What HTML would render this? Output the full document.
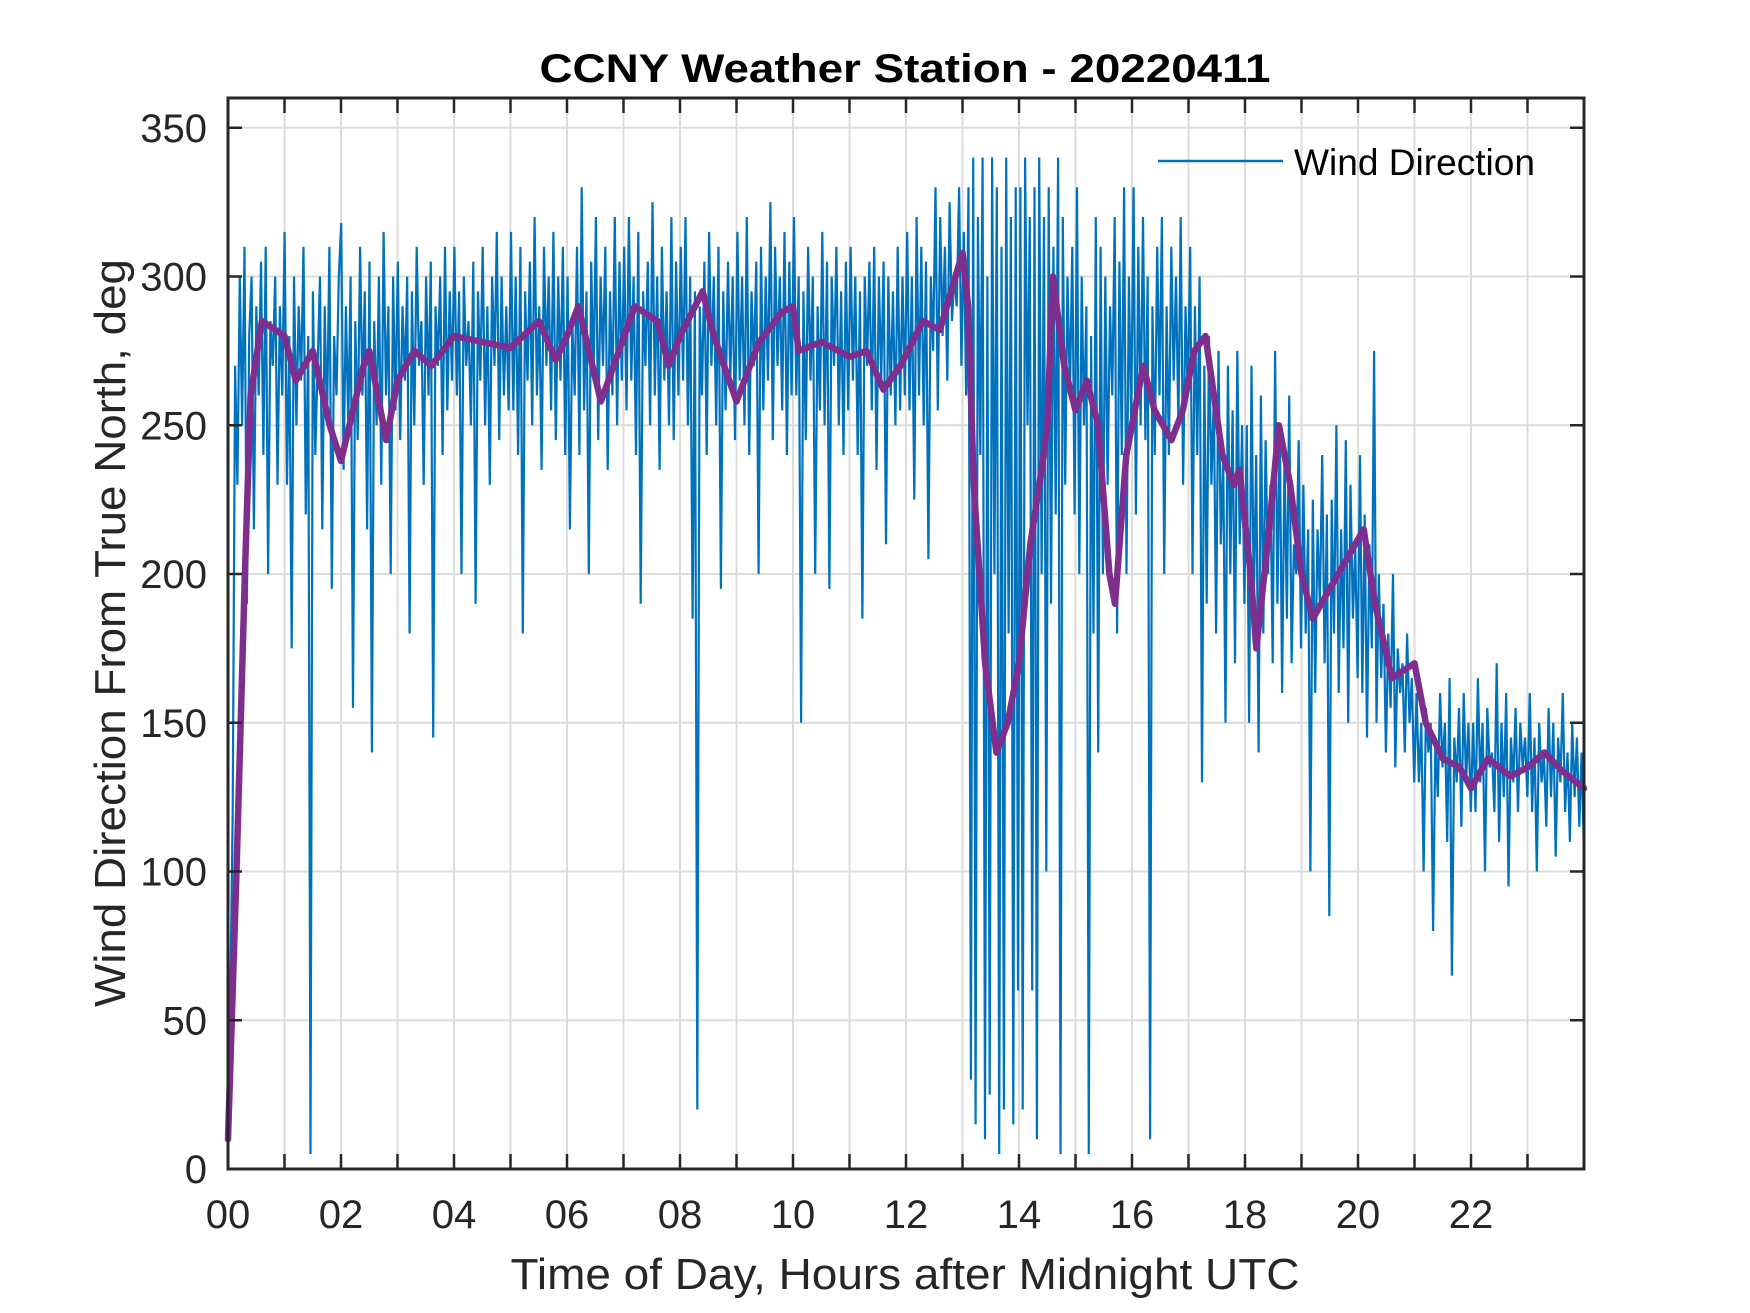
<!DOCTYPE html>
<html><head><meta charset="utf-8"><style>
html,body{margin:0;padding:0;background:#fff;}
svg{display:block;font-family:"Liberation Sans",sans-serif;}
</style></head><body>
<svg id="chart" width="1750" height="1313" viewBox="0 0 1750 1313" xmlns="http://www.w3.org/2000/svg">
<rect x="0" y="0" width="1750" height="1313" fill="#fff"/>
<g id="grid"></g>
<g id="series"></g>
<g id="axes"></g>
<text x="905" y="82" text-anchor="middle" font-size="40" font-weight="bold" textLength="731" lengthAdjust="spacingAndGlyphs">CCNY Weather Station - 20220411</text>
<text x="905" y="1289" text-anchor="middle" font-size="44" fill="#262626" textLength="789" lengthAdjust="spacingAndGlyphs">Time of Day, Hours after Midnight UTC</text>
<text transform="translate(125,633) rotate(-90)" text-anchor="middle" font-size="44" fill="#262626" textLength="748" lengthAdjust="spacingAndGlyphs">Wind Direction From True North, deg</text>
<g>
<line x1="1158" y1="161" x2="1283" y2="161" stroke="#0072BD" stroke-width="2.5"/>
<text x="1294" y="175" font-size="37" textLength="241" lengthAdjust="spacingAndGlyphs">Wind Direction</text>
</g>
</svg>
<script>
const xTicks = [0,2,4,6,8,10,12,14,16,18,20,22];
const xTickLabels = ["00","02","04","06","08","10","12","14","16","18","20","22"];
const yTicks = [0,50,100,150,200,250,300,350];
const yTickLabels = ["0","50","100","150","200","250","300","350"];
const rawSpanHours = 24;
const rawValues = [
15,60,120,270,230,300,250,310,190,280,300,215,290,260,305,240,310,200,285,270,300,230,290,260,
315,230,280,175,300,250,290,265,310,220,280,5,295,240,270,300,215,290,250,310,195,280,260,300,
318,235,290,250,300,155,285,245,310,260,295,215,305,140,285,250,300,230,315,260,290,200,300,255,
305,245,290,265,300,180,295,250,310,270,285,230,300,260,305,145,290,270,300,240,310,255,295,265,
310,260,295,200,300,270,285,250,305,190,295,265,310,250,290,230,300,270,315,245,300,260,290,255,
315,255,300,240,310,180,295,265,305,250,320,260,290,235,310,270,300,255,315,245,300,265,310,240,
300,215,285,260,310,240,330,255,295,200,305,265,320,245,300,270,310,235,295,260,320,250,305,265,
310,255,320,265,300,240,315,190,295,270,305,250,325,260,300,235,310,265,295,250,320,245,305,260,
310,265,320,250,300,185,295,20,290,260,305,240,315,270,300,250,310,195,295,255,305,265,300,245,
315,265,300,250,320,240,295,270,305,200,310,255,300,265,325,245,310,270,300,255,315,240,305,260,
320,260,300,150,295,245,310,265,300,200,290,255,315,250,305,195,300,270,310,250,295,240,305,255,
310,265,300,240,295,185,300,270,305,255,310,235,300,265,305,210,300,260,295,250,310,255,300,260,
315,255,300,225,320,260,310,250,305,205,300,275,330,255,320,280,310,265,325,285,300,290,330,270,
315,260,330,30,340,15,320,240,340,10,300,25,340,200,330,5,310,20,340,180,320,15,330,60,
330,20,340,250,320,60,330,10,340,200,320,100,330,190,310,220,340,5,320,230,300,260,310,220,
330,200,300,250,290,5,280,180,320,140,310,200,300,230,290,260,320,180,305,240,330,200,300,250,
330,220,310,250,320,245,300,10,290,240,310,260,320,200,290,240,310,265,300,250,320,230,290,260,
310,200,290,240,300,130,270,190,280,230,260,180,275,210,240,150,270,200,255,170,275,210,250,190,
250,150,270,190,240,140,260,180,245,200,230,170,275,190,250,160,240,185,260,170,210,200,245,175,
230,180,215,100,225,160,215,190,240,170,220,85,225,180,250,160,215,175,245,150,230,185,210,165,
240,160,220,145,210,175,275,150,200,165,190,140,180,155,200,135,175,160,170,140,180,150,165,130,
160,130,150,100,155,140,150,80,145,125,160,135,150,110,165,65,145,130,155,115,160,130,150,120,
150,120,165,130,150,100,155,135,140,120,170,110,150,125,160,95,145,130,155,120,150,135,145,125,
160,120,145,100,150,130,140,115,155,125,150,105,145,130,160,120,140,110,150,125,145,115,140,105
];
const smoothTimes = [0,0.15,0.3,0.4,0.6,1.0,1.2,1.5,1.8,2.0,2.4,2.5,2.8,3.0,3.3,3.6,4.0,4.5,5.0,5.5,5.8,6.0,6.2,6.6,7.2,7.6,7.8,8.0,8.4,8.6,9.0,9.4,9.8,10.0,10.1,10.5,11.0,11.3,11.6,11.9,12.3,12.6,12.8,13.0,13.1,13.2,13.4,13.6,13.8,14.0,14.2,14.4,14.5,14.6,14.8,15.0,15.2,15.4,15.6,15.7,15.9,16.2,16.4,16.7,16.9,17.1,17.3,17.6,17.8,17.9,18.1,18.2,18.4,18.6,18.8,19.0,19.2,19.5,19.8,20.1,20.3,20.6,21.0,21.2,21.5,21.8,22.0,22.3,22.7,23.0,23.3,23.6,24.0];
const smoothValues = [10,100,200,260,285,280,265,275,250,238,270,275,245,265,275,270,280,278,276,285,272,280,290,258,290,285,270,280,295,280,258,278,288,290,275,278,273,275,262,270,285,282,295,308,290,230,170,140,150,170,210,235,250,300,270,255,265,250,200,190,240,270,255,245,255,275,280,240,230,235,200,175,210,250,230,200,185,195,205,215,190,165,170,150,138,135,128,138,132,135,140,134,128];

const L=228,R=1584,T=98,B=1169,X0=0,X1=24,Y0=0,Y1=360;
const xs=v=>L+(v-X0)/(X1-X0)*(R-L);
const ys=v=>B-(v-Y0)/(Y1-Y0)*(B-T);
const NS="http://www.w3.org/2000/svg";
function mk(tag,attrs,parent){const e=document.createElementNS(NS,tag);for(const k in attrs)e.setAttribute(k,attrs[k]);parent.appendChild(e);return e;}
const grid=document.getElementById('grid'),axes=document.getElementById('axes'),series=document.getElementById('series');
for(let h=1;h<24;h++){
  const g=mk('line',{x1:xs(h),x2:xs(h),y1:T,y2:B,stroke:'#dcdcdc','stroke-width':2},grid);
  
  
  const t1=mk('line',{x1:xs(h),x2:xs(h),y1:B,y2:B-15,stroke:'#262626','stroke-width':2.5},axes);
  
  
  const t2=mk('line',{x1:xs(h),x2:xs(h),y1:T,y2:T+15,stroke:'#262626','stroke-width':2.5},axes);
  
  
}
yTicks.forEach((v,i)=>{
  if(v>0){const g=mk('line',{x1:L,x2:R,y1:ys(v),y2:ys(v),stroke:'#dcdcdc','stroke-width':2},grid);
  
  
  const t1=mk('line',{x1:L,x2:L+14,y1:ys(v),y2:ys(v),stroke:'#262626','stroke-width':2.5},axes);
  
  
  const t2=mk('line',{x1:R,x2:R-14,y1:ys(v),y2:ys(v),stroke:'#262626','stroke-width':2.5},axes);
  
  }
  const tx=mk('text',{x:207,y:ys(v)+14,'text-anchor':'end','font-size':40,fill:'#262626'},axes);
  tx.textContent=yTickLabels[i];
  
  
});
xTicks.forEach((v,i)=>{
  const tx=mk('text',{x:xs(v),y:1228,'text-anchor':'middle','font-size':40,fill:'#262626'},axes);
  tx.textContent=xTickLabels[i];
  
  
});
const frame=mk('rect',{x:L,y:T,width:R-L,height:B-T,fill:'none',stroke:'#262626','stroke-width':3},axes);


const n=rawValues.length;
let d=rawValues.map((v,i)=>(i?'L':'M')+xs(i*rawSpanHours/(n-1)).toFixed(1)+','+ys(v).toFixed(1)).join('');
const raw=mk('path',{d:d,fill:'none',stroke:'#0072BD','stroke-width':2.2,'stroke-linejoin':'miter'},series);


let d2=smoothValues.map((v,i)=>(i?'L':'M')+xs(smoothTimes[i]).toFixed(1)+','+ys(v).toFixed(1)).join('');
const sm=mk('path',{d:d2,fill:'none',stroke:'#7E2F8E','stroke-width':6.5,'stroke-linejoin':'round','stroke-linecap':'round'},series);


</script>
</body></html>
